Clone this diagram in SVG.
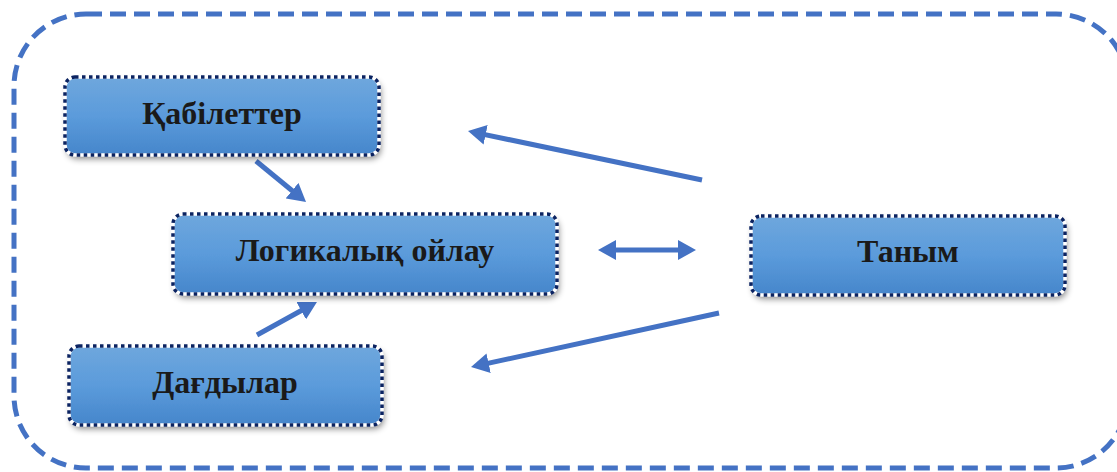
<svg xmlns="http://www.w3.org/2000/svg" width="1117" height="472" viewBox="0 0 1117 472">
<style>
.frame{fill:none;stroke:#4472C4;stroke-width:5;stroke-dasharray:16 8}
.box{fill:url(#g)}
.edge{fill:none;stroke:#ffffff;stroke-width:3.5}
.dots{fill:none;stroke:#0B2361;stroke-width:3.5;stroke-dasharray:3.5 3.5}
.lbl{font-family:"Liberation Serif","Times New Roman",serif;font-weight:bold;font-size:32px;fill:#1a1a1a;text-anchor:middle}
.conn{stroke:#4472C4;stroke-width:5;fill:none}
</style>
<defs>
<linearGradient id="g" x1="0" y1="0" x2="0" y2="1">
<stop offset="0" stop-color="#6FA7DD"/>
<stop offset="0.5" stop-color="#5B9BDB"/>
<stop offset="1" stop-color="#4686CB"/>
</linearGradient>
<filter id="sh" x="-10%" y="-20%" width="125%" height="150%">
<feDropShadow dx="2" dy="4" stdDeviation="3" flood-color="#000" flood-opacity="0.45"/>
</filter>
<marker id="ah" markerUnits="userSpaceOnUse" markerWidth="20" markerHeight="20" refX="8" refY="10" orient="auto-start-reverse">
<path d="M0,0 L18,10 L0,20 z" fill="#4472C4"/>
</marker>
</defs>
<rect width="1117" height="472" fill="#ffffff"/>
<rect class="frame" x="14" y="14" width="1114" height="454" rx="72" ry="72"/>
<g id="connectors">
<line class="conn" x1="702" y1="180" x2="477.8" y2="133.1" marker-end="url(#ah)"/>
<line class="conn" x1="719" y1="313" x2="480.8" y2="364.9" marker-end="url(#ah)"/>
<line class="conn" x1="256" y1="161" x2="298.3" y2="195.7" marker-end="url(#ah)"/>
<line class="conn" x1="257" y1="335" x2="308.2" y2="306.8" marker-end="url(#ah)"/>
<line class="conn" x1="608" y1="250" x2="686" y2="250" marker-start="url(#ah)" marker-end="url(#ah)"/>
</g>
<g id="node-qabiletter">
<rect class="box" x="65" y="77" width="314" height="78" rx="10" filter="url(#sh)"/>
<rect class="edge" x="65" y="77" width="314" height="78" rx="10"/>
<rect class="dots" x="65" y="77" width="314" height="78" rx="10"/>
<text class="lbl" x="222" y="124">Қабілеттер</text>
</g>
<g id="node-logikalyq">
<rect class="box" x="173" y="214" width="384" height="80" rx="10" filter="url(#sh)"/>
<rect class="edge" x="173" y="214" width="384" height="80" rx="10"/>
<rect class="dots" x="173" y="214" width="384" height="80" rx="10"/>
<text class="lbl" x="365" y="261">Логикалық ойлау</text>
</g>
<g id="node-tanym">
<rect class="box" x="751" y="216" width="314" height="79" rx="10" filter="url(#sh)"/>
<rect class="edge" x="751" y="216" width="314" height="79" rx="10"/>
<rect class="dots" x="751" y="216" width="314" height="79" rx="10"/>
<text class="lbl" x="908" y="262">Таным</text>
</g>
<g id="node-dagdylar">
<rect class="box" x="69" y="346" width="313" height="79" rx="10" filter="url(#sh)"/>
<rect class="edge" x="69" y="346" width="313" height="79" rx="10"/>
<rect class="dots" x="69" y="346" width="313" height="79" rx="10"/>
<text class="lbl" x="225" y="393">Дағдылар</text>
</g>
</svg>
